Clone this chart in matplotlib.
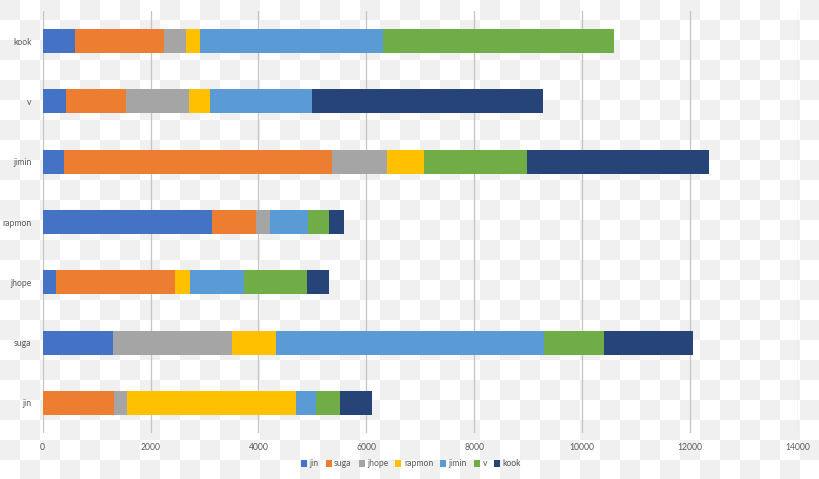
import numpy as np
import matplotlib
matplotlib.use("Agg")
import matplotlib.pyplot as plt
from matplotlib.patches import Patch

categories = ["jin", "suga", "jhope", "rapmon", "jimin", "v", "kook"]
series_names = ["jin", "suga", "jhope", "rapmon", "jimin", "v", "kook"]
# values per series, ordered like categories (bottom to top)
jin    = [0,    1304, 241,  3141, 390,  432,  605]
suga   = [1317, 0,    2213, 816,  4983, 1113, 1645]
jhope  = [241,  2207, 0,    266,  1009, 1174, 402]
rapmon = [3141, 816,  272,  0,    692,  390,  271]
jimin  = [377,  4966, 1002, 699,  0,    1892, 3384]
v      = [434,  1119, 1174, 390,  1898, 0,    4278]
kook   = [605,  1645, 408,  272,  3376, 4274, 0]
series = [jin, suga, jhope, rapmon, jimin, v, kook]
colors = ["#4472C4", "#ED7D31", "#A5A5A5", "#FFC000", "#5B9BD5", "#70AD47", "#264478"]
xticks = [0, 2000, 4000, 6000, 8000, 10000, 12000, 14000]

W, H = 820, 479
fig = plt.figure(figsize=(W / 100, H / 100), dpi=100)
fig.patch.set_facecolor("white")

# checkerboard background
bg = fig.add_axes([0, 0, 1, 1], zorder=0)
ncols, nrows = 41, 24
ii, jj = np.meshgrid(np.arange(ncols), np.arange(nrows))
checker = np.where((ii + jj) % 2 == 0, 0.94, 1.0)
bg.imshow(checker, cmap="gray", vmin=0, vmax=1, extent=(0, ncols * 20, nrows * 20, 0),
          interpolation="nearest", aspect="auto")
bg.set_xlim(0, W)
bg.set_ylim(H, 0)
bg.axis("off")

left = 42.7 / W
right = 797.7 / W
bottom = (H - 433) / H
top = (H - 11) / H
ax = fig.add_axes([left, bottom, right - left, top - bottom], zorder=1)
ax.set_facecolor("none")

y = np.arange(len(categories))
lefts = np.zeros(len(categories))
for name, vals, c in zip(series_names, series, colors):
    vals = np.array(vals, dtype=float)
    ax.barh(y, vals, left=lefts, height=0.4, color=c, label=name, zorder=3, linewidth=0)
    lefts += vals

ax.set_xlim(0, 14000)
ax.set_ylim(-0.5, len(categories) - 0.5)
ax.set_xticks(xticks)
ax.set_xticklabels([str(t) for t in xticks])
ax.set_yticks(y)
ax.set_yticklabels(categories)
ax.grid(axis="x", color="#C4C4C4", linewidth=0.9, zorder=1)
ax.grid(axis="y", visible=False)
for s in ax.spines.values():
    s.set_visible(False)
ax.tick_params(axis="both", length=0, labelsize=6.2, labelcolor="#595959")
ax.tick_params(axis="x", pad=7)
ax.tick_params(axis="y", pad=8)
for lab in ax.get_xticklabels() + ax.get_yticklabels():
    lab.set_fontfamily("Lato")

handles = [Patch(facecolor=c, edgecolor="none", label=n) for n, c in zip(series_names, colors)]
leg = fig.legend(handles=handles, loc="center", bbox_to_anchor=(411 / W, (H - 464) / H),
                 ncol=7, frameon=False, handlelength=0.7, handleheight=0.7,
                 handletextpad=0.3, columnspacing=0.8, prop={"family": "Lato", "size": 6.2})
for t in leg.get_texts():
    t.set_color("#595959")

fig.savefig("out.png", dpi=100)
